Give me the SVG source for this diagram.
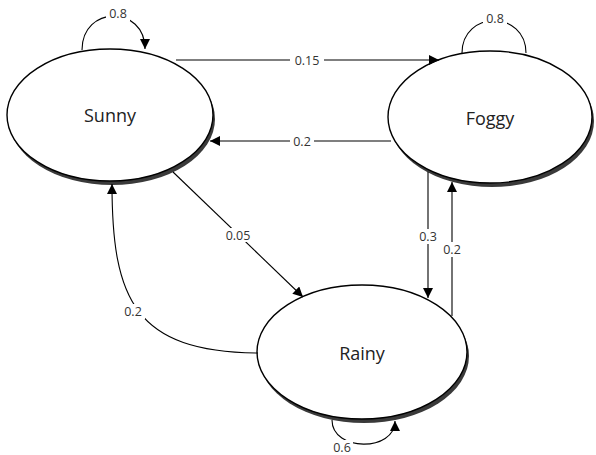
<svg xmlns="http://www.w3.org/2000/svg" width="596" height="455" viewBox="0 0 596 455">
<defs>
<style>
.node{fill:#fff;stroke:#000;stroke-width:1.4}
.shadow{fill:#3a3a3a}
.name{font-family:"Open Sans","Liberation Sans",sans-serif;font-size:18px;fill:#222;text-anchor:middle}
.edge{fill:none;stroke:#000;stroke-width:1.1}
.lbl{font-family:"Open Sans","Liberation Sans",sans-serif;font-size:12.5px;fill:#333;text-anchor:middle}
.bg{fill:#fff}
</style>
<marker id="arr" viewBox="0 0 10 10" refX="10" refY="5" markerWidth="10" markerHeight="10" markerUnits="userSpaceOnUse" orient="auto">
<path d="M0,0 L10,5 L0,10 Z" fill="#000"/>
</marker>
</defs>
<g id="sunny">
<ellipse class="shadow" cx="112" cy="119" rx="103" ry="66"/>
<ellipse class="node" cx="110" cy="115" rx="103" ry="66"/>
<text class="name" x="110" y="122">Sunny</text>
</g>
<g id="foggy">
<ellipse class="shadow" cx="492" cy="121" rx="102" ry="66"/>
<ellipse class="node" cx="490" cy="117" rx="102" ry="66"/>
<text class="name" x="490" y="125">Foggy</text>
</g>
<g id="rainy">
<ellipse class="shadow" cx="364" cy="356" rx="105" ry="67"/>
<ellipse class="node" cx="362" cy="352" rx="105" ry="67"/>
<text class="name" x="362" y="360">Rainy</text>
</g>
<g id="connectors">
<path class="edge" d="M82,50 C82,5 145,5 145,49" marker-end="url(#arr)"/>
<rect class="bg" x="106" y="7" width="24" height="14"/>
<text class="lbl" x="118" y="18">0.8</text>
<path class="edge" d="M462,53 C462,10 526,10 526,53"/>
<rect class="bg" x="483" y="12" width="24" height="14"/>
<text class="lbl" x="495" y="23">0.8</text>
<path class="edge" d="M332,420 C332,452 395,452 395,421" marker-end="url(#arr)"/>
<rect class="bg" x="331" y="440" width="22" height="13"/>
<text class="lbl" x="342" y="451.5" font-size="11.5">0.6</text>
<path class="edge" d="M176,60 L439,60" marker-end="url(#arr)"/>
<rect class="bg" x="290" y="53" width="34" height="14"/>
<text class="lbl" x="307" y="64.5">0.15</text>
<path class="edge" d="M391,141 L210,141" marker-end="url(#arr)"/>
<rect class="bg" x="290" y="134" width="24" height="14"/>
<text class="lbl" x="302" y="145.5">0.2</text>
<path class="edge" d="M173,172 L303,297" marker-end="url(#arr)"/>
<rect class="bg" x="221" y="228" width="34" height="14"/>
<text class="lbl" x="238" y="239.5">0.05</text>
<path class="edge" d="M428,172 L428,298" marker-end="url(#arr)"/>
<rect class="bg" x="417" y="229" width="23" height="15"/>
<text class="lbl" x="428" y="241">0.3</text>
<path class="edge" d="M452,316 L452,182" marker-end="url(#arr)"/>
<rect class="bg" x="441" y="242" width="23" height="15"/>
<text class="lbl" x="452" y="254">0.2</text>
<path class="edge" d="M258,353 C135,352 112,300 112,184" marker-end="url(#arr)"/>
<rect class="bg" x="121" y="304" width="24" height="15"/>
<text class="lbl" x="133" y="316">0.2</text>
</g>
</svg>
